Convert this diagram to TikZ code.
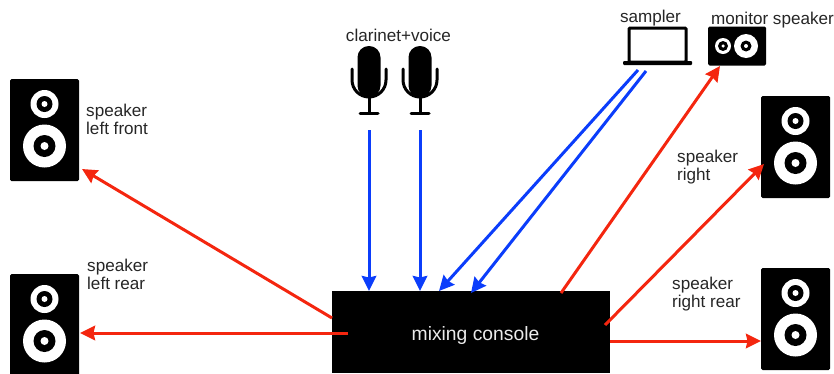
\documentclass[tikz,border=0pt]{standalone}
\usepackage{fontspec}
\setmainfont{Liberation Sans}
\usetikzlibrary{arrows.meta}
\definecolor{sigblue}{HTML}{0B3DFB}
\definecolor{sigred}{HTML}{F4260F}
\tikzset{
  box/.style={fill=black,draw=none,inner sep=0pt,rounded corners=1.5pt},
  disc/.style={circle,fill=#1,draw=none,inner sep=0pt},
  lbl/.style={font=\fontsize{17.1}{18}\selectfont,text=black!85,align=left,inner sep=0pt},
  bluearrow/.style={draw=sigblue,line width=3pt,-{Stealth[length=15pt,width=14.5pt,inset=1.5pt]}},
  redarrow/.style={draw=sigred,line width=3pt,-{Stealth[length=15pt,width=14.5pt,inset=1.5pt]}},
  micline/.style={draw=black,line width=3pt,line cap=round},
}
\newcommand{\spkr}[4]{% name, cx, top, (unused)
  \node[box,minimum width=69pt,minimum height=102pt] (#1) at (#2,#3+51) {};
  \node[disc=white,minimum size=28pt] (#1t1) at (#2,#3+25) {};
  \node[disc=black,minimum size=16pt] (#1t2) at (#2,#3+25) {};
  \node[disc=white,minimum size=6pt] (#1t3) at (#2,#3+25) {};
  \node[disc=white,minimum size=43pt] (#1w1) at (#2,#3+67) {};
  \node[disc=black,minimum size=22pt] (#1w2) at (#2,#3+67) {};
  \node[disc=white,minimum size=8pt] (#1w3) at (#2,#3+67) {};
}
\newcommand{\micro}[2]{% name, cx
  \node[box,rounded corners=11.4pt,minimum width=23pt,minimum height=51pt] (#1) at (#2,71.5) {};
  \draw[micline] (#2-17,69) -- (#2-17,80) arc[start angle=180,end angle=360,radius=17pt] -- (#2+17,69);
  \draw[micline,line cap=butt] (#2,97) -- (#2,113);
  \draw[micline] (#2-9,113.5) -- (#2+9,113.5);
}
\begin{document}
\begin{tikzpicture}[x=1pt,y=-1pt]
\useasboundingbox (0,0) rectangle (834,373);
% speakers
\spkr{lf}{44.5}{79}{}
\spkr{lr}{44.5}{274}{}
\spkr{rf}{795.5}{96}{}
\spkr{rr}{795.5}{268}{}
% monitor
\node[box,minimum width=58pt,minimum height=39pt] (mon) at (737,46) {};
\node[disc=white,minimum size=16pt] (mont1) at (723,46) {};
\node[disc=black,minimum size=10pt] (mont2) at (723,46) {};
\node[disc=white,minimum size=3.5pt] (mont3) at (723,46) {};
\node[disc=white,minimum size=24pt] (monw1) at (746,46) {};
\node[disc=black,minimum size=11pt] (monw2) at (746,46) {};
\node[disc=white,minimum size=4pt] (monw3) at (746,46) {};
% mics
\micro{micA}{369}
\micro{micB}{420}
% laptop
\node[draw=black,line width=3pt,rounded corners=1pt,minimum width=57pt,minimum height=34pt,inner sep=0pt] (lap) at (657.5,45) {};
\node[box,rounded corners=1pt,minimum width=69pt,minimum height=4pt] (lapbase) at (657.5,63) {};
% console
\node[fill=black,inner sep=0pt,minimum width=278pt,minimum height=82pt] (con) at (471,332) {};
\node[text=white!92!black,inner sep=0pt,font=\fontsize{19.3}{21}\selectfont] (conlbl) at (475.5,336) {mixing console};
% labels
\node[lbl,anchor=north west] (tlf) at (86,104) {speaker\\left front};
\node[lbl,anchor=north west] (tlr) at (87,259) {speaker\\left rear};
\node[lbl,anchor=north west] (trf) at (677,149.5) {speaker\\right};
\node[lbl,anchor=north west] (trr) at (672,277) {speaker\\right rear};
\node[lbl,anchor=base] (tcv) at (398.5,41) {clarinet+voice};
\node[lbl,anchor=base] (tsa) at (650.5,22) {sampler};
\node[lbl,anchor=base] (tmo) at (772.5,24) {monitor speaker};
% connector ends
\coordinate (a1s) at (369,130); \coordinate (a1e) at (369,291);
\coordinate (a2s) at (420,130); \coordinate (a2e) at (420,291);
\coordinate (a3s) at (638,70); \coordinate (a3e) at (439,291);
\coordinate (a4s) at (646,71); \coordinate (a4e) at (471,293);
\coordinate (r1s) at (332,318); \coordinate (r1e) at (82,169);
\coordinate (r2s) at (348,333); \coordinate (r2e) at (80,333);
\coordinate (r3s) at (561,293); \coordinate (r3e) at (720,66);
\coordinate (r4s) at (605,325); \coordinate (r4e) at (764,164);
\coordinate (r5s) at (610,341); \coordinate (r5e) at (761,341);
\draw[bluearrow] (a1s) -- (a1e);
\draw[bluearrow] (a2s) -- (a2e);
\draw[bluearrow] (a3s) -- (a3e);
\draw[bluearrow] (a4s) -- (a4e);
\draw[redarrow] (r1s) -- (r1e);
\draw[redarrow] (r2s) -- (r2e);
\draw[redarrow] (r3s) -- (r3e);
\draw[redarrow] (r4s) -- (r4e);
\draw[redarrow] (r5s) -- (r5e);
\end{tikzpicture}
\end{document}
